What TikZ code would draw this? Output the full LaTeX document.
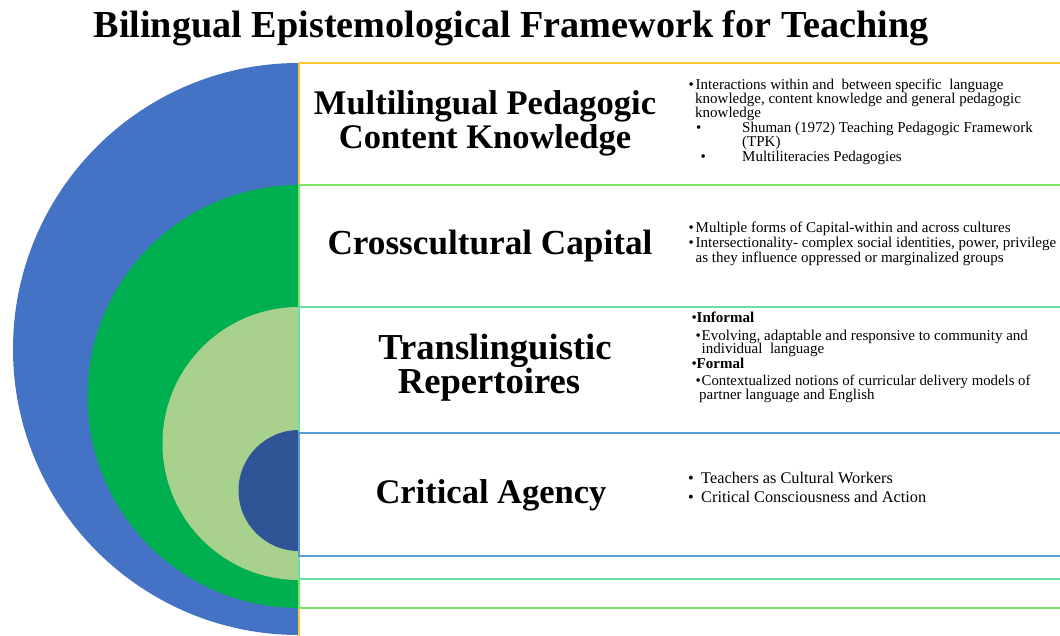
\documentclass[tikz,border=0pt]{standalone}
\usepackage{fontspec}
\setmainfont{Liberation Serif}
\definecolor{cBlue}{HTML}{4472C4}
\definecolor{cGreen}{HTML}{00B050}
\definecolor{cLight}{HTML}{A9D18E}
\definecolor{cDark}{HTML}{2F5597}
\definecolor{bYellow}{HTML}{FFC832}
\definecolor{bGreen}{HTML}{80E35F}
\definecolor{bMint}{HTML}{62E2A4}
\definecolor{bBlue}{HTML}{5B9BD5}
\begin{document}
\begin{tikzpicture}[x=1pt,y=1pt,
  hd/.style={font=\fontsize{34.5}{32}\selectfont\bfseries, inner sep=0, anchor=base},
  ttl/.style={font=\fontsize{38.2}{40}\selectfont\bfseries, inner sep=0, anchor=base},
  bt/.style={font=\fontsize{15}{14}\selectfont, inner sep=0, anchor=base west},
  bl/.style={font=\fontsize{15}{14}\selectfont, inner sep=0, anchor=base west},
  bb/.style={font=\fontsize{16.3}{18}\selectfont, inner sep=0, anchor=base west},
  panel/.style={line width=1.8pt, fill=white}]
\useasboundingbox (0,0) rectangle (1060,635);
\clip (0,0) rectangle (1060,635);
% half discs
\fill[cBlue] (299,572) arc[start angle=90,end angle=270,radius=286] -- cycle;
\fill[cGreen] (299,450) arc[start angle=90,end angle=270,radius=211.5] -- cycle;
\fill[cLight] (299,328) arc[start angle=90,end angle=270,radius=136.5] -- cycle;
\fill[cDark] (299,205) arc[start angle=90,end angle=270,radius=60.5] -- cycle;
% panels
\draw[panel, draw=bYellow] (299,-10) rectangle (1075,572);
\draw[panel, draw=bGreen] (299,27) rectangle (1075,450);
\draw[panel, draw=bMint] (299,56) rectangle (1075,328);
\draw[panel, draw=bBlue] (299,79) rectangle (1075,202);
% title
\node[ttl] (title) at (511,597) {Bilingual Epistemological Framework for Teaching};
% headings
\node[hd] (h1a) at (485,520) {Multilingual Pedagogic};
\node[hd] (h1b) at (485,486) {Content Knowledge};
\node[hd, font=\fontsize{35.2}{32}\selectfont\bfseries] (h2) at (490,380) {Crosscultural Capital};
\node[hd, font=\fontsize{36.6}{32}\selectfont\bfseries] (h3a) at (495,275) {Translinguistic};
\node[hd, font=\fontsize{36.6}{32}\selectfont\bfseries] (h3b) at (489,241) {Repertoires};
\node[hd] (h4) at (491,132) {Critical Agency};
% row 1
\node[bl] (b1a) at (688.5,545) {•};
\node[bt] (t1a) at (695.5,545) {Interactions within and\ \ between specific\ \ language};
\node[bt] (t1b) at (695,531) {knowledge, content knowledge and general pedagogic};
\node[bt] (t1c) at (695,517) {knowledge};
\node[bl] (b1d) at (696,502) {•};
\node[bt] (t1d) at (742,502) {Shuman (1972) Teaching Pedagogic Framework};
\node[bt] (t1e) at (742,488) {(TPK)};
\node[bl] (b1f) at (700.5,473) {•};
\node[bt] (t1f) at (742,473) {Multiliteracies Pedagogies};
% row 2
\node[bl] (b2a) at (688.5,402) {•};
\node[bt] (t2a) at (695.5,402) {Multiple forms of Capital-within and across cultures};
\node[bl] (b2b) at (688.5,387) {•};
\node[bt] (t2b) at (695.5,387) {Intersectionality- complex social identities, power, privilege};
\node[bt] (t2c) at (695.5,372) {as they influence oppressed or marginalized groups};
% row 3
\node[bl] (b3a) at (691.5,312) {•};
\node[bt] (t3a) at (696.5,312) {\bfseries Informal};
\node[bl] (b3b) at (695.5,294) {•};
\node[bt] (t3b) at (701.5,294) {Evolving, adaptable and responsive to community and};
\node[bt] (t3c) at (701.5,281) {individual\ \ language};
\node[bl] (b3d) at (691.5,266) {•};
\node[bt] (t3d) at (696.5,266) {\bfseries Formal};
\node[bl] (b3e) at (695.5,249) {•};
\node[bt, font=\fontsize{14.8}{14}\selectfont] (t3e) at (701.5,249) {Contextualized notions of curricular delivery models of};
\node[bt] (t3f) at (699,235) {partner language and English};
% row 4
\node[bb] (b4a) at (688,152) {•};
\node[bb] (t4a) at (701,152) {Teachers as Cultural Workers};
\node[bb] (b4b) at (688,133) {•};
\node[bb] (t4b) at (701,133) {Critical Consciousness and Action};
\end{tikzpicture}
\end{document}
